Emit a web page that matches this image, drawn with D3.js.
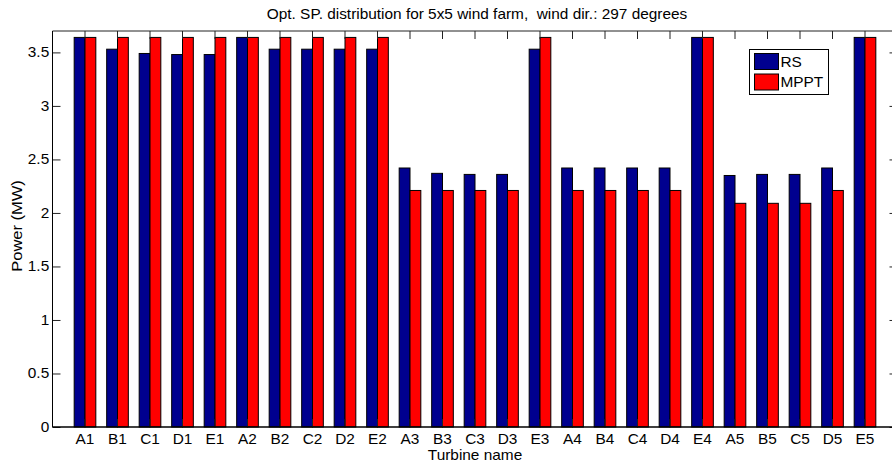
<!DOCTYPE html>
<html>
<head>
<meta charset="utf-8">
<script src="https://cdn.jsdelivr.net/npm/d3@7"></script>
<style>
  html, body { margin: 0; padding: 0; background: #fff; }
  svg { display: block; font-family: Arial, "Liberation Sans", Helvetica, sans-serif; }
</style>
</head>
<body>
<svg id="chart" width="892" height="464"></svg>
<script>
// Turbine names (rows A..E, columns 1..5)
const categories = ["A1","B1","C1","D1","E1","A2","B2","C2","D2","E2",
                    "A3","B3","C3","D3","E3","A4","B4","C4","D4","E4",
                    "A5","B5","C5","D5","E5"];
// Power per turbine (MW)
const rsValues   = [3.64,3.53,3.49,3.48,3.48,3.64,3.53,3.53,3.53,3.53,
                    2.42,2.37,2.36,2.36,3.53,2.42,2.42,2.42,2.42,3.64,
                    2.35,2.36,2.36,2.42,3.64];
const mpptValues = [3.64,3.64,3.64,3.64,3.64,3.64,3.64,3.64,3.64,3.64,
                    2.21,2.21,2.21,2.21,3.64,2.21,2.21,2.21,2.21,3.64,
                    2.09,2.09,2.09,2.21,3.64];
const seriesNames = ["RS", "MPPT"];
const seriesColors = ["#00008f", "#ff0000"];
const yTicks = [0, 0.5, 1, 1.5, 2, 2.5, 3, 3.5];
const titleText = "Opt. SP. distribution for 5x5 wind farm,  wind dir.: 297 degrees";
const xLabel = "Turbine name";
const yLabel = "Power (MW)";

const svg = d3.select("#chart");
const plotLeft = 52.5, plotRight = 897.5, plotTop = 31, plotBottom = 427;
const step = (plotRight - plotLeft) / (categories.length + 1);
const fontSize = 14, stretch = 1.1;   // slightly wide figure fonts

const x = d3.scaleBand()
  .domain(categories)
  .range([plotLeft + step / 2, plotRight - step / 2])
  .paddingInner(0).paddingOuter(0);
const y = d3.scaleLinear().domain([0, 3.7]).range([plotBottom, plotTop]);

const barW = x.bandwidth() * 0.333;
const series = [rsValues, mpptValues];

// grouped bars
series.forEach((vals, s) => {
  svg.append("g").selectAll("rect")
    .data(categories)
    .join("rect")
    .attr("x", d => x(d) + x.bandwidth() / 2 + (s === 0 ? -barW : 0))
    .attr("y", (d, i) => y(vals[i]))
    .attr("width", barW)
    .attr("height", (d, i) => y(0) - y(vals[i]))
    .attr("fill", seriesColors[s])
    .attr("stroke", "#000")
    .attr("stroke-width", 1);
});

// axes box
const tickLen = 8;
const axisColor = "#222";

const xAxis = svg.append("g")
  .attr("transform", `translate(0,${plotBottom})`)
  .call(d3.axisBottom(x).tickSizeInner(-tickLen).tickSizeOuter(0).tickPadding(7));
const xAxisTop = svg.append("g")
  .attr("transform", `translate(0,${plotTop})`)
  .call(d3.axisTop(x).tickSizeInner(-tickLen).tickSizeOuter(0).tickFormat(""));
const yAxis = svg.append("g")
  .attr("transform", `translate(${plotLeft},0)`)
  .call(d3.axisLeft(y).tickValues(yTicks).tickFormat(d3.format("")).tickSizeInner(-tickLen).tickSizeOuter(0).tickPadding(3));
const yAxisRight = svg.append("g")
  .attr("transform", `translate(${plotRight},0)`)
  .call(d3.axisRight(y).tickValues(yTicks).tickSizeInner(-tickLen).tickSizeOuter(0).tickFormat(""));

[xAxis, xAxisTop, yAxis, yAxisRight].forEach(g => {
  g.select(".domain").remove();
  g.selectAll(".tick line").attr("stroke", axisColor);
  g.selectAll(".tick text")
    .attr("fill", "#000")
    .attr("font-size", fontSize)
    .attr("font-family", "Arial, 'Liberation Sans', sans-serif")
    .attr("transform", `scale(${stretch},1)`);
});
xAxis.selectAll(".tick text").attr("dy", "0.71em");

// frame lines
svg.append("line").attr("x1", plotLeft).attr("x2", plotRight).attr("y1", plotTop).attr("y2", plotTop).attr("stroke", axisColor);
svg.append("line").attr("x1", plotLeft).attr("x2", plotLeft).attr("y1", plotTop).attr("y2", plotBottom).attr("stroke", "#000");
svg.append("line").attr("x1", plotRight).attr("x2", plotRight).attr("y1", plotTop).attr("y2", plotBottom).attr("stroke", axisColor);
svg.append("line").attr("x1", plotLeft).attr("x2", plotRight).attr("y1", plotBottom).attr("y2", plotBottom).attr("stroke", "#000").attr("stroke-width", 1.5);

// title and axis labels
function label(tx, ty, txt, extra) {
  return svg.append("text")
    .attr("transform", `translate(${tx},${ty}) ${extra || ""} scale(${stretch},1)`)
    .attr("text-anchor", "middle")
    .attr("font-size", fontSize)
    .attr("xml:space", "preserve")
    .style("white-space", "pre")
    .text(txt);
}
label(477, 18.5, titleText);
label((plotLeft + plotRight) / 2, 459.5, xLabel);
label(21.5, (plotTop + plotBottom) / 2 - 3, yLabel, "rotate(-90)").attr("font-size", 15);

// legend
const lg = svg.append("g").attr("transform", "translate(749.5,49.5)");
lg.append("rect").attr("width", 79).attr("height", 45).attr("fill", "#fff").attr("stroke", "#000");
seriesNames.forEach((name, i) => {
  lg.append("rect").attr("x", 5).attr("y", 4 + i * 20.5).attr("width", 24).attr("height", 16)
    .attr("fill", seriesColors[i]).attr("stroke", "#000");
  lg.append("text")
    .attr("transform", `translate(31,${12 + i * 20.5}) scale(${stretch},1)`)
    .attr("dy", "0.36em")
    .attr("font-size", fontSize)
    .text(name);
});
</script>
</body>
</html>
